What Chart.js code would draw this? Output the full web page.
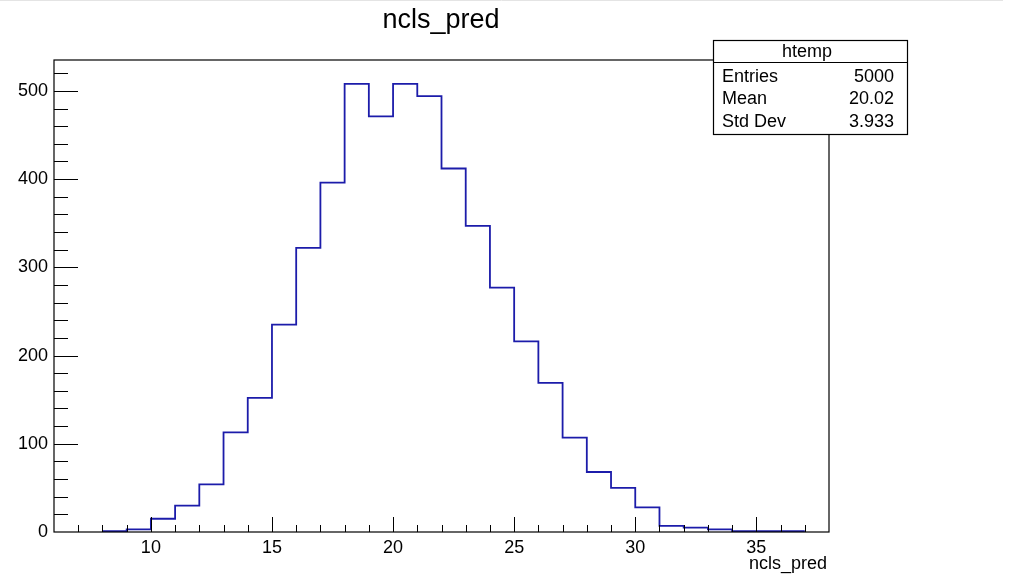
<!DOCTYPE html>
<html>
<head>
<meta charset="utf-8">
<title>ncls_pred</title>
<script src="https://cdn.jsdelivr.net/npm/chart.js@4.4.1/dist/chart.umd.min.js"></script>
<style>
	html, body { margin: 0; padding: 0; background: #fff; }
	#wrap { width: 1013px; height: 574px; position: relative; }
</style>
</head>
<body>
<div id="wrap"><canvas id="hist" width="1013" height="574"></canvas></div>
<script>
// histogram contents, one bin per unit
const binLowEdges = [8, 9, 10, 11, 12, 13, 14, 15, 16, 17, 18, 19, 20, 21, 22, 23, 24, 25, 26, 27, 28, 29, 30, 31, 32, 33, 34, 35, 36];
const binCounts = [1, 3, 15, 30, 54, 113, 152, 235, 322, 396, 508, 471, 508, 494, 412, 347, 277, 216, 169, 107, 68, 50, 28, 7, 5, 3, 1, 1, 1];
const binWidth = 1;

const xTicks = [10, 15, 20, 25, 30, 35];
const yTicks = [0, 100, 200, 300, 400, 500];
const xRange = [6, 38];
const yRange = [0, 535];

const histTitle = 'ncls_pred';
const xTitle = 'ncls_pred';
const statsName = 'htemp';
const statsLabels = ['Entries', 'Mean', 'Std Dev'];
const statsValues = ['5000', '20.02', '3.933'];

const FONT = '"Liberation Sans", Arial, Helvetica, sans-serif';

const points = binCounts.map((c, i) => ({ x: binLowEdges[i], y: c }));
points.push({ x: binLowEdges[binLowEdges.length - 1] + binWidth, y: binCounts[binCounts.length - 1] });

// ROOT style frame, inner ticks, title and stats box
const rootStyle = {
	id: 'rootStyle',
	afterDraw(chart) {
		const ctx = chart.ctx;
		const area = chart.chartArea;
		const xs = chart.scales.x;
		const ys = chart.scales.y;

		ctx.save();
		// thin grey line on top of the pad
		ctx.strokeStyle = '#e4e4e4';
		ctx.lineWidth = 1;
		ctx.beginPath();
		ctx.moveTo(0, 0.5);
		ctx.lineTo(1003, 0.5);
		ctx.stroke();

		ctx.strokeStyle = '#000';
		ctx.lineWidth = 1.2;
		ctx.strokeRect(area.left, area.top, area.right - area.left, area.bottom - area.top);

		ctx.lineWidth = 1;
		ctx.beginPath();
		for (let v = xRange[0] + 1; v < xRange[1]; v += 1) {
			const px = Math.round(xs.getPixelForValue(v)) + 0.5;
			const len = xTicks.includes(v) ? 15 : 7;
			ctx.moveTo(px, area.bottom);
			ctx.lineTo(px, area.bottom - len);
		}
		for (let v = 20; v < yRange[1]; v += 20) {
			const py = Math.round(ys.getPixelForValue(v)) + 0.5;
			const len = yTicks.includes(v) ? 24 : 14;
			ctx.moveTo(area.left, py);
			ctx.lineTo(area.left + len, py);
		}
		ctx.stroke();

		// title
		ctx.fillStyle = '#000';
		ctx.font = '27px ' + FONT;
		ctx.textAlign = 'center';
		ctx.textBaseline = 'middle';
		ctx.fillText(histTitle, 441, 21);

		// x axis title
		ctx.font = '18px ' + FONT;
		ctx.textAlign = 'right';
		ctx.fillText(xTitle, 827, 564);

		// stats box
		const bx = 713.5, by = 40.5, bw = 194, bh = 94;
		ctx.fillStyle = '#fff';
		ctx.fillRect(bx, by, bw, bh);
		ctx.strokeStyle = '#000';
		ctx.lineWidth = 1.2;
		ctx.strokeRect(bx, by, bw, bh);
		ctx.beginPath();
		ctx.moveTo(bx, 62.5);
		ctx.lineTo(bx + bw, 62.5);
		ctx.stroke();

		ctx.fillStyle = '#000';
		ctx.font = '18px ' + FONT;
		ctx.textAlign = 'center';
		ctx.fillText(statsName, 807, 52);
		const rowY = [77, 99, 122];
		statsLabels.forEach((label, i) => {
			ctx.textAlign = 'left';
			ctx.fillText(label, 722, rowY[i]);
			ctx.textAlign = 'right';
			ctx.fillText(statsValues[i], 894, rowY[i]);
		});
		ctx.restore();
	}
};

new Chart(document.getElementById('hist'), {
	type: 'line',
	data: {
		datasets: [{
			label: histTitle,
			data: points,
			stepped: 'before',
			borderColor: '#1c1caa',
			borderWidth: 1.8,
			pointRadius: 0,
			fill: false,
			tension: 0
		}]
	},
	options: {
		responsive: false,
		animation: false,
		layout: { padding: { top: 60, right: 184, left: 0, bottom: 0 } },
		plugins: {
			legend: { display: false },
			title: { display: false },
			tooltip: { enabled: false }
		},
		scales: {
			x: {
				type: 'linear',
				min: xRange[0],
				max: xRange[1],
				afterBuildTicks(scale) { scale.ticks = xTicks.map(v => ({ value: v })); },
				afterFit(scale) { scale.height = 42; },
				grid: { display: false, drawTicks: false },
				border: { display: false },
				ticks: {
					color: '#000',
					font: { family: FONT, size: 18 },
					padding: 5,
					maxRotation: 0
				}
			},
			y: {
				type: 'linear',
				min: yRange[0],
				max: yRange[1],
				afterBuildTicks(scale) { scale.ticks = yTicks.map(v => ({ value: v })); },
				afterFit(scale) { scale.width = 54; },
				grid: { display: false, drawTicks: false },
				border: { display: false },
				ticks: {
					color: '#000',
					font: { family: FONT, size: 18 },
					padding: 6
				}
			}
		}
	},
	plugins: [rootStyle]
});
</script>
</body>
</html>
